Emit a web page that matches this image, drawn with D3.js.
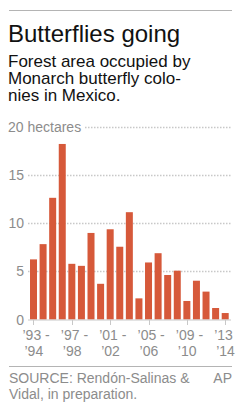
<!DOCTYPE html>
<html>
<head>
<meta charset="utf-8">
<script src="https://cdn.jsdelivr.net/npm/d3@7"></script>
<style>
  html, body { margin: 0; padding: 0; background: #fff; }
  svg { display: block; font-family: 'Liberation Sans', Arial, sans-serif; }
</style>
</head>
<body>
<svg id="chart" width="243" height="405"></svg>
<script>
const seasons = ['1993-94', '1994-95', '1995-96', '1996-97', '1997-98', '1998-99', '1999-00',
  '2000-01', '2001-02', '2002-03', '2003-04', '2004-05', '2005-06', '2006-07', '2007-08',
  '2008-09', '2009-10', '2010-11', '2011-12', '2012-13', '2013-14']
const hectares = [6.23, 7.81, 12.61, 18.19, 5.77, 5.56, 8.97, 3.7, 9.35, 7.54, 11.12,
  2.19, 5.91, 6.87, 4.61, 5.06, 1.92, 4.02, 2.89, 1.19, 0.67]
const tickSeasons = ['1993-94', '1997-98', '2001-02', '2005-06', '2009-10', '2013-14']
const tickTop = ['\u201993 -', '\u201997 -', '\u201901 -', '\u201905 -', '\u201909 -', '\u201913']
const tickBottom = ['\u201994', '\u201998', '\u201902', '\u201906', '\u201910', '\u201914']
const yTicks = [0, 5, 10, 15, 20]

const title = 'Butterflies going'
const subtitle = ['Forest area occupied by', 'Monarch butterfly colo-', 'nies in Mexico.']
const source = ['SOURCE: Rend\u00f3n-Salinas &', 'Vidal, in preparation.']
const credit = 'AP'

const svg = d3.select('#chart')
const gray = '#8c8c8c'

// header
svg.append('line')
  .attr('x1', 9).attr('x2', 232).attr('y1', 10.5).attr('y2', 10.5)
  .attr('stroke', '#b4b4b4').attr('stroke-width', 1)

svg.append('text')
  .attr('x', 8).attr('y', 42)
  .attr('font-size', 24).attr('fill', '#111')
  .text(title)

svg.append('g').selectAll('text')
  .data(subtitle)
  .join('text')
  .attr('x', 8)
  .attr('y', (d, i) => 67 + i * 17)
  .attr('font-size', 17).attr('fill', '#111')
  .text(d => d)

// scales
const x = d3.scaleBand()
  .domain(seasons)
  .range([30, 228.7])
  .paddingInner(0.27)
  .paddingOuter(0)

const y = d3.scaleLinear()
  .domain([0, 20])
  .range([319.5, 126.5])

// gridlines
const grid = svg.append('g')
grid.selectAll('line')
  .data(yTicks.filter(d => d > 0))
  .join('line')
  .attr('x1', d => d === 20 ? 85 : 28)
  .attr('x2', 231)
  .attr('y1', d => Math.round(y(d)) + 0.5)
  .attr('y2', d => Math.round(y(d)) + 0.5)
  .attr('stroke', '#c8c8c8')
  .attr('stroke-width', 1.5)
  .attr('stroke-dasharray', '1.5,1.5')

grid.selectAll('text')
  .data(yTicks)
  .join('text')
  .attr('x', d => d === 20 ? 8 : 24)
  .attr('y', d => y(d) + 5)
  .attr('text-anchor', d => d === 20 ? 'start' : 'end')
  .attr('font-size', 14)
  .attr('fill', gray)
  .text(d => d === 20 ? '20 hectares' : d)

// bars
svg.append('g').selectAll('rect')
  .data(hectares)
  .join('rect')
  .attr('x', (d, i) => x(seasons[i]))
  .attr('y', d => y(d))
  .attr('width', x.bandwidth())
  .attr('height', d => y(0) - y(d))
  .attr('fill', '#d6593a')

// x axis
const xAxis = svg.append('g')
xAxis.append('line')
  .attr('x1', 28).attr('x2', 231)
  .attr('y1', 320).attr('y2', 320)
  .attr('stroke', '#c8c8c8').attr('stroke-width', 1)

const center = s => x(s) + x.bandwidth() / 2

xAxis.selectAll('.tick')
  .data(tickSeasons)
  .join('line')
  .attr('class', 'tick')
  .attr('x1', d => Math.round(center(d)) + 0.5)
  .attr('x2', d => Math.round(center(d)) + 0.5)
  .attr('y1', 320).attr('y2', 325)
  .attr('stroke', '#c8c8c8')

xAxis.selectAll('.top')
  .data(tickSeasons)
  .join('text')
  .attr('class', 'top')
  .attr('x', d => center(d) - 11)
  .attr('y', 340)
  .attr('font-size', 14).attr('fill', gray)
  .text((d, i) => tickTop[i])

xAxis.selectAll('.bottom')
  .data(tickSeasons)
  .join('text')
  .attr('class', 'bottom')
  .attr('x', d => center(d) - 9)
  .attr('y', 356)
  .attr('font-size', 14).attr('fill', gray)
  .text((d, i) => tickBottom[i])

// footer
svg.append('line')
  .attr('x1', 9).attr('x2', 232).attr('y1', 366.5).attr('y2', 366.5)
  .attr('stroke', '#b4b4b4').attr('stroke-width', 1)

svg.append('g').selectAll('text')
  .data(source)
  .join('text')
  .attr('x', 9)
  .attr('y', (d, i) => 383 + i * 16)
  .attr('font-size', 14).attr('fill', gray)
  .text(d => d)

svg.append('text')
  .attr('x', 232).attr('y', 383)
  .attr('text-anchor', 'end')
  .attr('font-size', 14).attr('fill', gray)
  .text(credit)
</script>
</body>
</html>
